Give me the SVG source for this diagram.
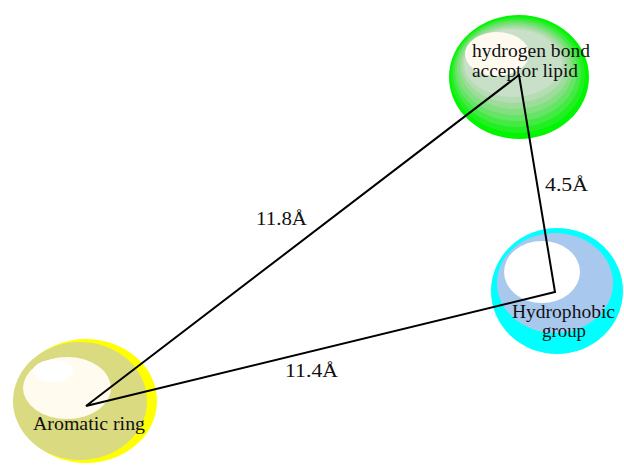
<svg xmlns="http://www.w3.org/2000/svg" width="624" height="465" viewBox="0 0 624 465">
  <style>
    .lbl { font-family: "Liberation Serif", "Times New Roman", serif; font-size: 19px; fill: #111; }
    .edge { fill: none; stroke: #000; stroke-width: 2; stroke-linejoin: miter; }
  </style>
  <rect width="624" height="465" fill="#fff"/>

  <!-- hydrogen bond acceptor lipid: stacked green shells -->
  <g id="node-hba">
    <ellipse cx="519" cy="77" rx="70" ry="62" fill="#00f500"/>
    <ellipse cx="518" cy="75" rx="67" ry="58" fill="#22ef22"/>
    <ellipse cx="517" cy="73" rx="64" ry="54" fill="#44ea44"/>
    <ellipse cx="516" cy="71" rx="61" ry="50" fill="#66e466"/>
    <ellipse cx="515" cy="69" rx="58" ry="46" fill="#82e080"/>
    <ellipse cx="515" cy="67" rx="55" ry="42" fill="#9edc9c"/>
    <ellipse cx="514" cy="65" rx="52" ry="38" fill="#b6dcb4"/>
    <ellipse cx="513" cy="63" rx="49" ry="34" fill="#c8e0c8"/>
    <ellipse cx="497" cy="54" rx="32" ry="22" fill="#fffaf0"/>
    <text class="lbl" x="472" y="57" textLength="118" lengthAdjust="spacingAndGlyphs">hydrogen bond</text>
    <text class="lbl" x="472" y="77" textLength="106" lengthAdjust="spacingAndGlyphs">acceptor lipid</text>
  </g>

  <!-- hydrophobic group -->
  <g id="node-hydrophobic">
    <ellipse cx="557" cy="291" rx="66" ry="63" fill="#00ffff"/>
    <ellipse cx="555" cy="283" rx="58" ry="50" fill="#a8c8ee"/>
    <ellipse cx="542" cy="272" rx="38" ry="31" fill="#ffffff"/>
    <text class="lbl" x="512" y="318" textLength="103" lengthAdjust="spacingAndGlyphs">Hydrophobic</text>
    <text class="lbl" x="542" y="337" textLength="44" lengthAdjust="spacingAndGlyphs">group</text>
  </g>

  <!-- aromatic ring -->
  <g id="node-aromatic">
    <ellipse cx="86" cy="401" rx="71" ry="62" fill="#ffff00"/>
    <ellipse cx="80" cy="401" rx="67" ry="59" fill="#dada80"/>
    <ellipse cx="67" cy="388" rx="44" ry="31" fill="#fffbee"/>
    <ellipse cx="53" cy="371" rx="20" ry="11" fill="#ffffff"/>
    <text class="lbl" x="33" y="430" textLength="112" lengthAdjust="spacingAndGlyphs">Aromatic ring</text>
  </g>

  <!-- distance connectors between pharmacophore centres -->
  <g id="connectors">
    <path class="edge" d="M519 75 L555 292 L86 406 Z"/>
    <text class="lbl" x="256" y="225" textLength="51" lengthAdjust="spacingAndGlyphs">11.8Å</text>
    <text class="lbl" x="545" y="191" textLength="43" lengthAdjust="spacingAndGlyphs">4.5Å</text>
    <text class="lbl" x="285" y="377" textLength="53" lengthAdjust="spacingAndGlyphs">11.4Å</text>
  </g>
</svg>
